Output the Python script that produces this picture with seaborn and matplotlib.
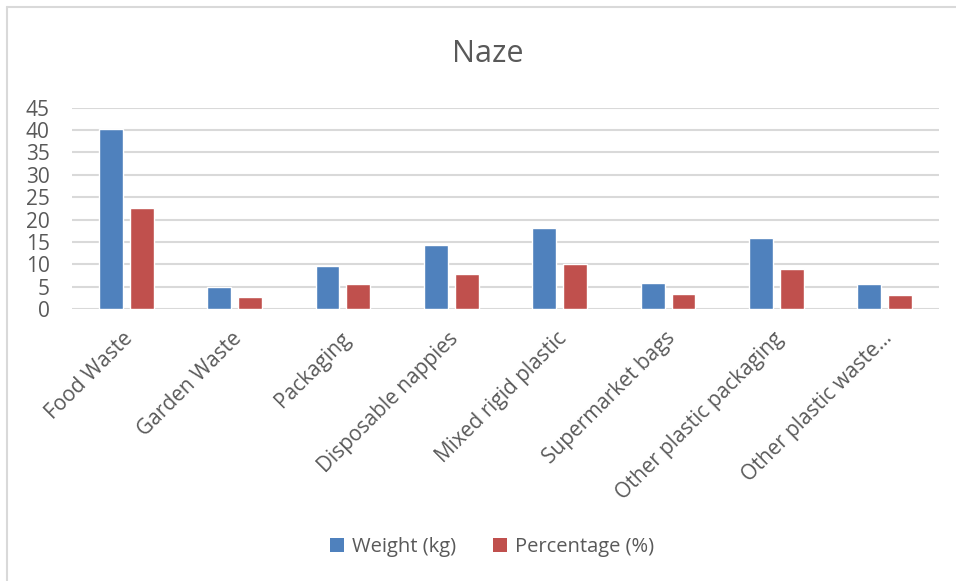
import matplotlib
matplotlib.use("Agg")
import matplotlib.pyplot as plt
import matplotlib.transforms as mtransforms
import seaborn as sns
import pandas as pd
from matplotlib.lines import Line2D
from matplotlib.patches import Patch

categories = ["Food Waste", "Garden Waste", "Packaging", "Disposable nappies",
              "Mixed rigid plastic", "Supermarket bags", "Other plastic packaging",
              "Other plastic waste..."]
weight_kg = [40.2, 4.9, 9.6, 14.4, 18.0, 5.9, 15.9, 5.6]
percentage = [22.6, 2.7, 5.5, 7.9, 10.1, 3.3, 9.0, 3.1]
series_names = ["Weight (kg)", "Percentage (%)"]
yticks = [0, 5, 10, 15, 20, 25, 30, 35, 40, 45]
title = "Naze"

df = pd.DataFrame({
    "Category": categories * 2,
    "Value": weight_kg + percentage,
    "Series": [series_names[0]] * len(categories) + [series_names[1]] * len(categories),
})

sns.set_theme(style="white")
plt.rcParams["font.family"] = ["Open Sans", "DejaVu Sans"]
text_color = "#595959"
grid_color = "#d9d9d9"
colors = ["#4F81BD", "#C0504D"]

fig = plt.figure(figsize=(9.56, 5.81), dpi=100)
ax = fig.add_axes([72 / 956, 1 - 309 / 581, 867 / 956, (309 - 107.7) / 581])

sns.barplot(data=df, x="Category", y="Value", hue="Series", palette=colors,
            width=0.57, gap=0.23, ax=ax, legend=False, saturation=1)

ax.set_ylim(0, 45)
ax.set_yticks(yticks)
ax.set_yticklabels([str(t) for t in yticks])
ax.set_xlim(-0.5, len(categories) - 0.5)
ax.set_xlabel("")
ax.set_ylabel("")
for s in ax.spines.values():
    s.set_visible(False)
ax.yaxis.grid(True, color=grid_color, linewidth=1.5)
ax.set_axisbelow(True)
ax.tick_params(axis="y", length=0, pad=16, labelsize=15, labelcolor=text_color)
ax.tick_params(axis="x", length=0, pad=19, labelsize=15, labelcolor=text_color)
offset = mtransforms.ScaledTranslation(4 / 100, 0, fig.dpi_scale_trans)
for lbl in ax.get_xticklabels():
    lbl.set_rotation(45)
    lbl.set_ha("right")
    lbl.set_va("center")
    lbl.set_rotation_mode("anchor")
    lbl.set_transform(lbl.get_transform() + offset)

fig.text(488 / 956, 1 - 54 / 581, title, ha="center", va="center", fontsize=22, color=text_color)

handles = [Patch(facecolor=c, edgecolor="none") for c in colors]
fig.legend(handles, series_names, loc="center", bbox_to_anchor=(492 / 956, 1 - 547 / 581),
           ncol=2, frameon=False, fontsize=14.5, labelcolor=text_color,
           handlelength=0.7, handleheight=0.7, handletextpad=0.4, columnspacing=1.8)

# outer chart border (visible on left and top)
fig.add_artist(Line2D([7 / 956, 7 / 956], [0, 1 - 7 / 581], color=grid_color, lw=1.5,
                      transform=fig.transFigure))
fig.add_artist(Line2D([7 / 956, 1], [1 - 7 / 581, 1 - 7 / 581], color=grid_color, lw=1.5,
                      transform=fig.transFigure))

fig.savefig("out.png", dpi=100, facecolor="white")
